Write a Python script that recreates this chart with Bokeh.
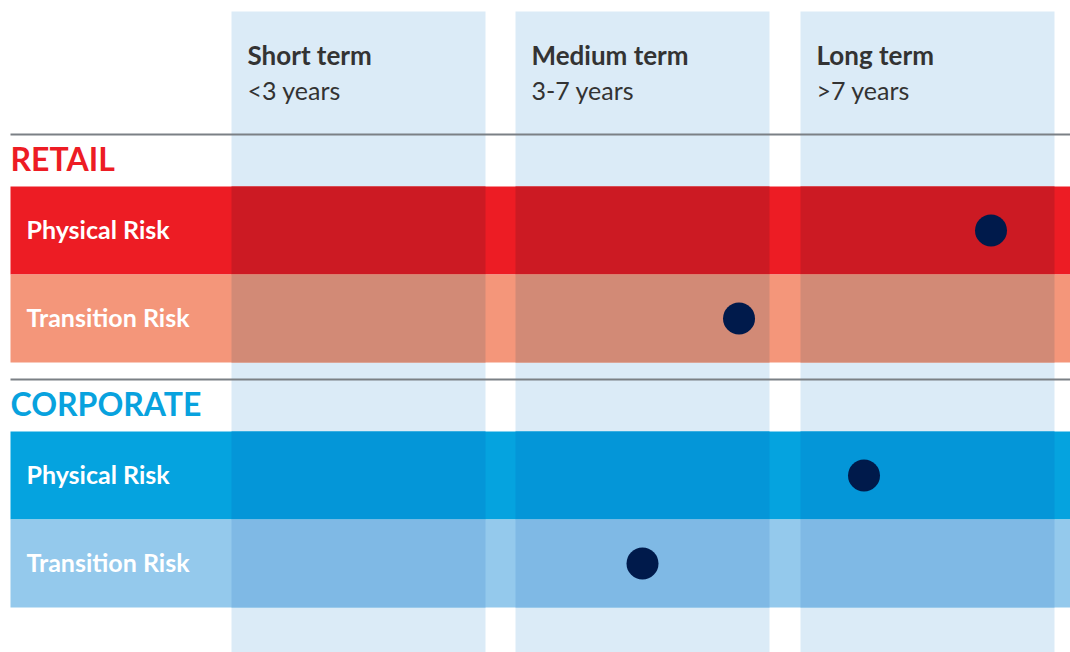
from bokeh.plotting import figure
from bokeh.models import Range1d
from bokeh.core.properties import value
from bokeh.embed import file_html
from bokeh.resources import INLINE

# ---- data ----
terms = ["Short term", "Medium term", "Long term"]
term_spans = ["<3 years", "3-7 years", ">7 years"]
sectors = ["RETAIL", "CORPORATE"]
risk_types = ["Physical Risk", "Transition Risk"]

# where each risk is expected to materialise: horizon bucket + position inside it (0..1)
dot_sector = ["RETAIL", "RETAIL", "CORPORATE", "CORPORATE"]
dot_risk = ["Physical Risk", "Transition Risk", "Physical Risk", "Transition Risk"]
dot_term = ["Long term", "Medium term", "Long term", "Medium term"]
dot_position = [0.75, 0.88, 0.25, 0.50]

# ---- layout (canvas units, y grows downward) ----
W, H = 1070, 652
LEFT = 10
COL_X0 = [231, 515, 800]
COL_W = 254
COL_TOP = 11
RULE_Y = {"RETAIL": 134, "CORPORATE": 379}
LABEL_Y = {"RETAIL": 158, "CORPORATE": 403}
ROW_TOP = {"RETAIL": 186, "CORPORATE": 431}
ROW_H = 88

SECTOR_COLOR = {"RETAIL": "#ED1C24", "CORPORATE": "#08A2DE"}
ROW_COLOR = {
    ("RETAIL", "Physical Risk"): "#ED1C24",
    ("RETAIL", "Transition Risk"): "#F4967A",
    ("CORPORATE", "Physical Risk"): "#05A3DF",
    ("CORPORATE", "Transition Risk"): "#94C9EC",
}
COL_COLOR = "#DBEBF7"
DOT_COLOR = "#001A4B"
RULE_COLOR = "#7B8085"
HEAD_COLOR = "#333333"
FONT = value("Lato")


def hex_rgb(h):
    h = h.lstrip("#")
    return tuple(int(h[i:i + 2], 16) for i in (0, 2, 4))


def multiply(a, b):
    ra, rb = hex_rgb(a), hex_rgb(b)
    return "#%02X%02X%02X" % tuple(round(x * y / 255) for x, y in zip(ra, rb))


p = figure(width=W, height=H, x_range=Range1d(0, W), y_range=Range1d(H, 0),
           output_backend="svg", toolbar_location=None, min_border=0)
p.axis.visible = False
p.grid.visible = False
p.outline_line_color = None
p.background_fill_color = "white"
p.border_fill_color = "white"

# horizon columns
p.quad(left=COL_X0, right=[x + COL_W for x in COL_X0],
       top=[COL_TOP] * len(terms), bottom=[H] * len(terms),
       fill_color=COL_COLOR, line_color=None)

# header texts
p.text(x=[x + 16 for x in COL_X0], y=[54] * len(terms), text=terms,
       text_font=FONT, text_font_size="26px", text_font_style="bold",
       text_color=HEAD_COLOR, text_baseline="alphabetic")
p.text(x=[x + 16 for x in COL_X0], y=[89] * len(terms), text=term_spans,
       text_font=FONT, text_font_size="25px",
       text_color=HEAD_COLOR, text_baseline="alphabetic")

for s in sectors:
    p.segment(x0=[LEFT], x1=[W], y0=[RULE_Y[s]], y1=[RULE_Y[s]],
              line_color=RULE_COLOR, line_width=2)
    p.text(x=[LEFT], y=[LABEL_Y[s]], text=[s], text_font=FONT,
           text_font_size="32px", text_font_style="bold",
           text_color=SECTOR_COLOR[s], text_baseline="alphabetic")
    for i, r in enumerate(risk_types):
        top = ROW_TOP[s] + i * ROW_H
        base = ROW_COLOR[(s, r)]
        p.quad(left=[LEFT], right=[W], top=[top], bottom=[top + ROW_H],
               fill_color=base, line_color=None)
        # row tinted where it crosses a horizon column
        p.quad(left=COL_X0, right=[x + COL_W for x in COL_X0],
               top=[top] * len(COL_X0), bottom=[top + ROW_H] * len(COL_X0),
               fill_color=multiply(base, COL_COLOR), line_color=None)
        p.text(x=[26], y=[top + ROW_H / 2 - 2], text=[r], text_font=FONT,
               text_font_size="25px", text_font_style="bold",
               text_color="white", text_baseline="middle")

# risk timing markers
dx = [COL_X0[terms.index(t)] + f * COL_W for t, f in zip(dot_term, dot_position)]
dy = [ROW_TOP[s] + risk_types.index(r) * ROW_H + ROW_H / 2
      for s, r in zip(dot_sector, dot_risk)]
p.scatter(x=dx, y=dy, size=32, fill_color=DOT_COLOR, line_color=None)

open("out.html", "w").write(file_html(p, INLINE))
